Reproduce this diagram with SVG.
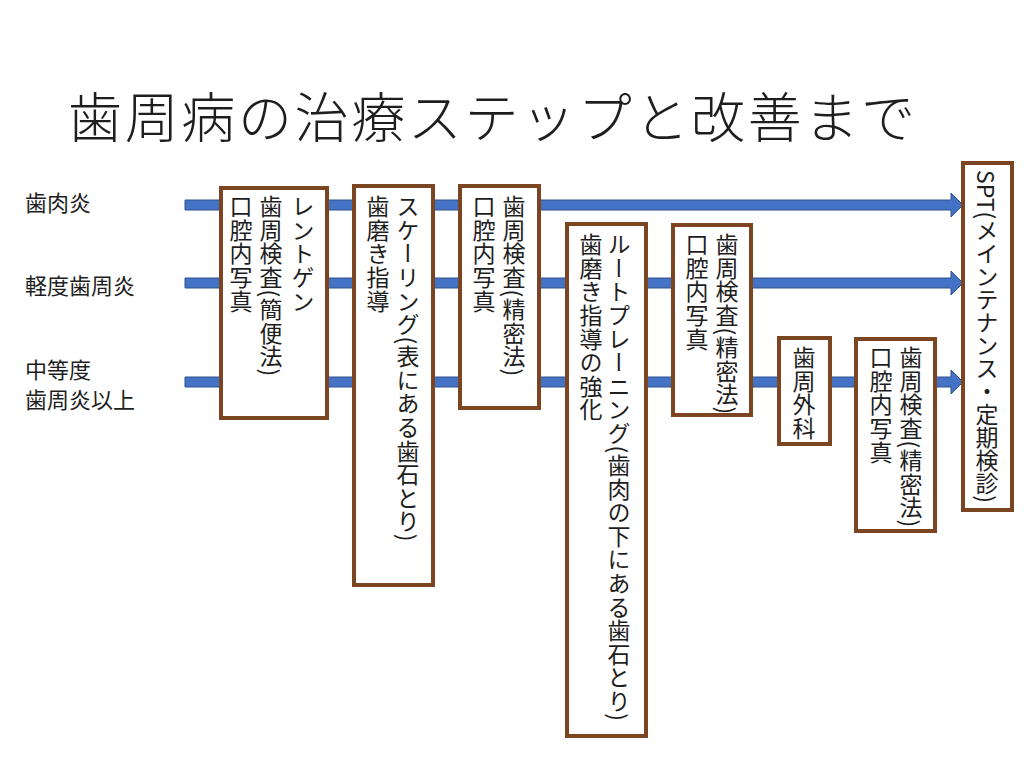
<svg xmlns="http://www.w3.org/2000/svg" width="1024" height="768" viewBox="0 0 1024 768">
<style>
text{font-family:"Noto Sans CJK JP","Noto Sans",sans-serif;fill:#1e1e1e;}
.title{font-size:54px;font-weight:300;}
.lbl{font-size:22px;}
.v{font-size:23px;writing-mode:vertical-rl;letter-spacing:0.6px;}
.v0{font-size:23px;writing-mode:vertical-rl;}
.box{fill:#fff;stroke:#7A4520;stroke-width:4;}
.arr{fill:#4472C4;stroke:#2F528F;stroke-width:1;}
</style>
<rect width="1024" height="768" fill="#fff"/>
<text class="title" x="68" y="138" textLength="847" lengthAdjust="spacing">歯周病の治療ステップと改善まで</text>
<g id="labels">
<text class="lbl" x="25" y="211">歯肉炎</text>
<text class="lbl" x="25" y="294">軽度歯周炎</text>
<text class="lbl" x="25" y="378">中等度</text>
<text class="lbl" x="25" y="408">歯周炎以上</text>
</g>
<g id="connectors">
<path class="arr" d="M185,200 H951 V193 L963,205 L951,217 V210 H185 Z"/>
<path class="arr" d="M185,278 H951 V271 L963,283 L951,295 V288 H185 Z"/>
<path class="arr" d="M185,377 H951 V370 L963,382 L951,394 V387 H185 Z"/>
</g>
<g id="n1">
<rect class="box" x="221" y="188" width="106" height="230"/>
<text class="v" x="303" y="195">レントゲン</text>
<text class="v" x="271" y="195">歯周検査(簡便法)</text>
<text class="v" x="241" y="195">口腔内写真</text>
</g>
<g id="n2">
<rect class="box" x="354" y="186" width="79" height="399"/>
<text class="v" x="408" y="195">スケーリング(表にある歯石とり)</text>
<text class="v" x="378" y="195">歯磨き指導</text>
</g>
<g id="n3">
<rect class="box" x="460" y="186" width="79" height="222"/>
<text class="v" x="514" y="195">歯周検査(精密法)</text>
<text class="v" x="484" y="195">口腔内写真</text>
</g>
<g id="n4">
<rect class="box" x="567" y="224" width="79" height="512"/>
<text class="v" x="619" y="233">ルートプレーニング(歯肉の下にある歯石とり)</text>
<text class="v" x="591" y="233">歯磨き指導の強化</text>
</g>
<g id="n5">
<rect class="box" x="673" y="225" width="78" height="190"/>
<text class="v" x="727" y="233">歯周検査(精密法)</text>
<text class="v" x="697" y="233">口腔内写真</text>
</g>
<g id="n6">
<rect class="box" x="779" y="338" width="51" height="106"/>
<text class="v" x="804" y="346">歯周外科</text>
</g>
<g id="n7">
<rect class="box" x="856" y="339" width="79" height="192"/>
<text class="v" x="911" y="346">歯周検査(精密法)</text>
<text class="v" x="881" y="346">口腔内写真</text>
</g>
<g id="n8">
<rect class="box" x="963" y="163" width="49" height="347"/>
<text class="v0" x="987" y="170">SPT(メインテナンス・定期検診)</text>
</g>
</svg>
